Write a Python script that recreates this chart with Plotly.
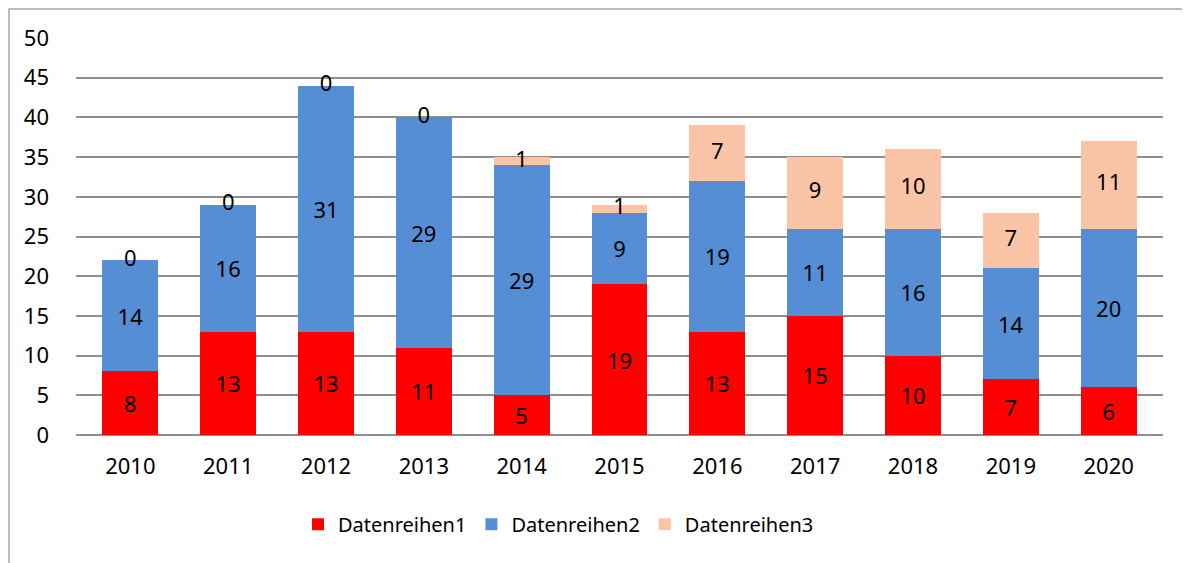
import plotly.graph_objects as go

years = ["2010", "2011", "2012", "2013", "2014", "2015", "2016", "2017", "2018", "2019", "2020"]
s1 = [8, 13, 13, 11, 5, 19, 13, 15, 10, 7, 6]
s2 = [14, 16, 31, 29, 29, 9, 19, 11, 16, 14, 20]
s3 = [0, 0, 0, 0, 1, 1, 7, 9, 10, 7, 11]
names = ["Datenreihen1", "Datenreihen2", "Datenreihen3"]
colors = ["#FF0000", "#558ED5", "#FAC4A7"]

FONT = "Noto Sans"
fs = 22
lfs = 20

fig = go.Figure()
fig.add_trace(go.Bar(x=years, y=s1, name=names[0], marker=dict(color=colors[0], line=dict(width=0)),
                     text=[str(v) for v in s1], textposition="inside", insidetextanchor="middle",
                     constraintext="none", textfont=dict(family=FONT, size=fs, color="black")))
fig.add_trace(go.Bar(x=years, y=s2, name=names[1], marker=dict(color=colors[1], line=dict(width=0)),
                     text=[str(v) for v in s2], textposition="inside", insidetextanchor="middle",
                     constraintext="none", textfont=dict(family=FONT, size=fs, color="black")))
fig.add_trace(go.Bar(x=years, y=s3, name=names[2], marker=dict(color=colors[2], line=dict(width=0)),
                     textposition="none"))
# labels of series 3, centered on its segment (also for zero values)
mid3 = [a + b + c / 2 for a, b, c in zip(s1, s2, s3)]
fig.add_trace(go.Scatter(x=years, y=mid3, mode="text", text=[str(v) for v in s3],
                         textposition="middle center", showlegend=False, hoverinfo="skip",
                         textfont=dict(family=FONT, size=fs, color="black")))

# page has an 8px body margin; figure is sized so the page is 1190x563
OFF = 8
W, H = 1190 - OFF, 563 - OFF
L, R, T, B = 76 - OFF, 27, 38 - OFF, 128
pw, ph = W - L - R, H - T - B
fig.add_shape(type="rect", xref="paper", yref="paper",
              x0=(1 - L) / pw, x1=(W + 20 - L) / pw,
              y0=-(H + 20 - T - ph) / ph, y1=(ph + T - 1) / ph,
              line=dict(color="#A6A6A6", width=1.5), fillcolor="rgba(0,0,0,0)", layer="below")

fig.update_layout(
    width=W, height=H,
    margin=dict(l=L, r=R, t=T, b=B, autoexpand=False),
    barmode="stack", bargap=0.43,
    paper_bgcolor="white", plot_bgcolor="white",
    font=dict(family=FONT, size=fs, color="black"),
    xaxis=dict(type="category", showgrid=False, showline=False, ticks="",
               tickfont=dict(family=FONT, size=fs), ticklabelstandoff=16),
    yaxis=dict(range=[0, 50], dtick=5, showgrid=True, gridcolor="#8E8E8E", gridwidth=2,
               zeroline=True, zerolinecolor="#8E8E8E", zerolinewidth=2, showline=False,
               ticks="", tickfont=dict(family=FONT, size=fs), ticklabelstandoff=26),
    legend=dict(orientation="h", x=(298 - 76) / pw, xanchor="left", y=-0.225, yanchor="middle",
                font=dict(family=FONT, size=lfs), itemwidth=30, traceorder="normal"),
    showlegend=True,
)

fig.write_html("out.html")
